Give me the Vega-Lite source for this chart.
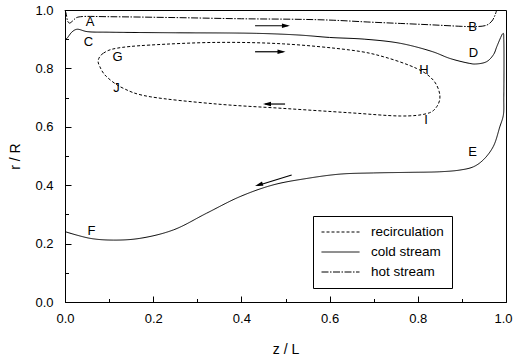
{
  "$schema": "https://vega.github.io/schema/vega-lite/v6.json",
  "width": 441,
  "height": 292,
  "autosize": "none",
  "padding": {"left": 65, "top": 10, "right": 8, "bottom": 56},
  "background": "white",
  "config": {
    "view": {"stroke": "black", "strokeWidth": 1},
    "font": "Liberation Sans",
    "axis": {
      "domainColor": "black", "tickColor": "black", "labelColor": "black", "titleColor": "black",
      "labelFont": "Liberation Sans", "titleFont": "Liberation Sans",
      "labelFontSize": 13, "titleFontSize": 14, "titleFontWeight": "normal", "grid": false, "ticks": true
    },
    "text": {"font": "Liberation Sans"}
  },
  "resolve": {"axis": {"x": "independent", "y": "independent"}},
  "datasets": {
    "loop": [
      {"i": 0, "z": 0.0755, "r": 0.829}, {"i": 1, "z": 0.087, "r": 0.852}, {"i": 2, "z": 0.117, "r": 0.869},
      {"i": 3, "z": 0.193, "r": 0.880}, {"i": 4, "z": 0.344, "r": 0.889}, {"i": 5, "z": 0.495, "r": 0.884},
      {"i": 6, "z": 0.646, "r": 0.863}, {"i": 7, "z": 0.722, "r": 0.840}, {"i": 8, "z": 0.797, "r": 0.800},
      {"i": 9, "z": 0.835, "r": 0.760}, {"i": 10, "z": 0.850, "r": 0.709}, {"i": 11, "z": 0.843, "r": 0.669},
      {"i": 12, "z": 0.820, "r": 0.645}, {"i": 13, "z": 0.760, "r": 0.637}, {"i": 14, "z": 0.646, "r": 0.648},
      {"i": 15, "z": 0.495, "r": 0.663}, {"i": 16, "z": 0.344, "r": 0.678}, {"i": 17, "z": 0.193, "r": 0.703},
      {"i": 18, "z": 0.132, "r": 0.732}, {"i": 19, "z": 0.094, "r": 0.772}, {"i": 20, "z": 0.079, "r": 0.806}
    ],
    "streams": [
      {"series": "hot stream", "i": 0, "z": 0.0, "r": 1.0},
      {"series": "hot stream", "i": 1, "z": 0.003, "r": 0.985},
      {"series": "hot stream", "i": 2, "z": 0.006, "r": 0.962},
      {"series": "hot stream", "i": 3, "z": 0.010, "r": 0.955},
      {"series": "hot stream", "i": 4, "z": 0.017, "r": 0.962},
      {"series": "hot stream", "i": 5, "z": 0.025, "r": 0.973},
      {"series": "hot stream", "i": 6, "z": 0.035, "r": 0.977},
      {"series": "hot stream", "i": 7, "z": 0.1, "r": 0.977},
      {"series": "hot stream", "i": 8, "z": 0.25, "r": 0.974},
      {"series": "hot stream", "i": 9, "z": 0.4, "r": 0.970},
      {"series": "hot stream", "i": 10, "z": 0.533, "r": 0.968},
      {"series": "hot stream", "i": 11, "z": 0.608, "r": 0.965},
      {"series": "hot stream", "i": 12, "z": 0.685, "r": 0.959},
      {"series": "hot stream", "i": 13, "z": 0.76, "r": 0.954},
      {"series": "hot stream", "i": 14, "z": 0.834, "r": 0.949},
      {"series": "hot stream", "i": 15, "z": 0.9, "r": 0.944},
      {"series": "hot stream", "i": 16, "z": 0.93, "r": 0.943},
      {"series": "hot stream", "i": 17, "z": 0.956, "r": 0.948},
      {"series": "hot stream", "i": 18, "z": 0.968, "r": 0.962},
      {"series": "hot stream", "i": 19, "z": 0.975, "r": 0.982},
      {"series": "hot stream", "i": 20, "z": 0.979, "r": 1.0},
      {"series": "cold stream", "i": 0, "z": 0.0, "r": 0.897},
      {"series": "cold stream", "i": 1, "z": 0.005, "r": 0.904},
      {"series": "cold stream", "i": 2, "z": 0.016, "r": 0.925},
      {"series": "cold stream", "i": 3, "z": 0.027, "r": 0.934},
      {"series": "cold stream", "i": 4, "z": 0.05, "r": 0.926},
      {"series": "cold stream", "i": 5, "z": 0.1, "r": 0.924},
      {"series": "cold stream", "i": 6, "z": 0.25, "r": 0.922},
      {"series": "cold stream", "i": 7, "z": 0.435, "r": 0.920},
      {"series": "cold stream", "i": 8, "z": 0.533, "r": 0.914},
      {"series": "cold stream", "i": 9, "z": 0.6, "r": 0.906},
      {"series": "cold stream", "i": 10, "z": 0.68, "r": 0.900},
      {"series": "cold stream", "i": 11, "z": 0.76, "r": 0.886},
      {"series": "cold stream", "i": 12, "z": 0.834, "r": 0.857},
      {"series": "cold stream", "i": 13, "z": 0.873, "r": 0.834},
      {"series": "cold stream", "i": 14, "z": 0.918, "r": 0.817},
      {"series": "cold stream", "i": 15, "z": 0.93, "r": 0.815},
      {"series": "cold stream", "i": 16, "z": 0.956, "r": 0.823},
      {"series": "cold stream", "i": 17, "z": 0.972, "r": 0.848},
      {"series": "cold stream", "i": 18, "z": 0.979, "r": 0.874},
      {"series": "cold stream", "i": 19, "z": 0.988, "r": 0.906},
      {"series": "cold stream", "i": 20, "z": 0.992, "r": 0.918},
      {"series": "cold stream", "i": 21, "z": 0.994, "r": 0.920},
      {"series": "cold stream", "i": 22, "z": 0.995, "r": 0.900},
      {"series": "cold stream", "i": 23, "z": 0.995, "r": 0.700},
      {"series": "cold stream", "i": 24, "z": 0.994, "r": 0.640},
      {"series": "cold stream", "i": 25, "z": 0.986, "r": 0.600},
      {"series": "cold stream", "i": 26, "z": 0.971, "r": 0.532},
      {"series": "cold stream", "i": 27, "z": 0.948, "r": 0.486},
      {"series": "cold stream", "i": 28, "z": 0.926, "r": 0.463},
      {"series": "cold stream", "i": 29, "z": 0.896, "r": 0.452},
      {"series": "cold stream", "i": 30, "z": 0.85, "r": 0.446},
      {"series": "cold stream", "i": 31, "z": 0.78, "r": 0.444},
      {"series": "cold stream", "i": 32, "z": 0.7, "r": 0.442},
      {"series": "cold stream", "i": 33, "z": 0.624, "r": 0.438},
      {"series": "cold stream", "i": 34, "z": 0.548, "r": 0.423},
      {"series": "cold stream", "i": 35, "z": 0.472, "r": 0.401},
      {"series": "cold stream", "i": 36, "z": 0.397, "r": 0.361},
      {"series": "cold stream", "i": 37, "z": 0.321, "r": 0.304},
      {"series": "cold stream", "i": 38, "z": 0.246, "r": 0.247},
      {"series": "cold stream", "i": 39, "z": 0.17, "r": 0.218},
      {"series": "cold stream", "i": 40, "z": 0.11, "r": 0.212},
      {"series": "cold stream", "i": 41, "z": 0.057, "r": 0.218},
      {"series": "cold stream", "i": 42, "z": 0.0, "r": 0.241}
    ],
    "shafts": [
      {"id": 1, "z": 0.431, "r": 0.946}, {"id": 1, "z": 0.505, "r": 0.946},
      {"id": 2, "z": 0.431, "r": 0.857}, {"id": 2, "z": 0.495, "r": 0.857},
      {"id": 3, "z": 0.499, "r": 0.678}, {"id": 3, "z": 0.454, "r": 0.678},
      {"id": 4, "z": 0.514, "r": 0.435}, {"id": 4, "z": 0.437, "r": 0.399}
    ],
    "heads": [
      {"z": 0.510, "r": 0.946, "dir": 0},
      {"z": 0.500, "r": 0.857, "dir": 0},
      {"z": 0.449, "r": 0.678, "dir": 180},
      {"z": 0.431, "r": 0.397, "dir": 162}
    ],
    "labels": [
      {"t": "A", "z": 0.057, "r": 0.958}, {"t": "B", "z": 0.924, "r": 0.941},
      {"t": "C", "z": 0.053, "r": 0.891}, {"t": "D", "z": 0.926, "r": 0.852},
      {"t": "E", "z": 0.924, "r": 0.514}, {"t": "F", "z": 0.060, "r": 0.243},
      {"t": "G", "z": 0.119, "r": 0.838}, {"t": "H", "z": 0.814, "r": 0.795},
      {"t": "I", "z": 0.819, "r": 0.623}, {"t": "J", "z": 0.117, "r": 0.732}
    ]
  },
  "layer": [
    {
      "data": {"name": "loop"},
      "transform": [{"calculate": "'recirculation'", "as": "series"}],
      "mark": {"type": "line", "color": "black", "strokeWidth": 1, "interpolate": "cardinal-closed"},
      "encoding": {
        "x": {
          "field": "z", "type": "quantitative", "scale": {"domain": [0, 1], "nice": false, "zero": false},
          "axis": {
            "orient": "bottom", "title": "z / L",
            "values": [0, 0.2, 0.4, 0.6, 0.8, 1.0],
            "format": ".1f", "ticks": true, "tickSize": -6, "tickWidth": 1,
            "labelOffset": {"condition": {"test": "datum.value > 0.99", "value": -3}, "value": 0},
            "labelPadding": 16, "titlePadding": 17, "labelOverlap": false, "labelFlush": false
          }
        },
        "y": {
          "field": "r", "type": "quantitative", "scale": {"domain": [0, 1], "nice": false, "zero": false},
          "axis": {
            "orient": "left", "title": "r / R",
            "values": [0, 0.2, 0.4, 0.6, 0.8, 1.0],
            "format": ".1f", "ticks": true, "tickSize": -6, "tickWidth": 1,
            "labelPadding": 18, "titlePadding": 12, "labelOverlap": false, "labelFlush": false
          }
        },
        "strokeDash": {
          "field": "series", "type": "nominal",
          "scale": {"domain": ["recirculation", "cold stream", "hot stream"], "range": [[3, 2], [1, 0], [7, 1.5, 1.5, 1.5]]},
          "legend": {
            "orient": "none", "legendX": 248, "legendY": 206, "title": null,
            "symbolType": "stroke", "symbolSize": 1444, "symbolStrokeColor": "black", "symbolStrokeWidth": 1,
            "labelFont": "Liberation Sans", "labelFontSize": 13.5, "labelColor": "black", "labelOffset": 11,
            "padding": 8, "strokeColor": "black", "fillColor": "white", "clipHeight": 16, "rowPadding": 4,
            "labelExpr": "datum.label + '\u00a0\u00a0\u00a0\u00a0\u00a0\u00a0\u00a0\u00a0\u00a0'"
          }
        },
        "order": {"field": "i", "type": "quantitative"}
      }
    },
    {
      "data": {"name": "streams"},
      "mark": {"type": "line", "color": "black", "strokeWidth": 1, "interpolate": "catmull-rom"},
      "encoding": {
        "x": {
          "field": "z", "type": "quantitative",
          "axis": {"orient": "bottom", "title": null, "values": [0.1, 0.3, 0.5, 0.7, 0.9], "labels": false, "domain": false, "ticks": true, "tickSize": -3.5, "tickWidth": 1}
        },
        "y": {
          "field": "r", "type": "quantitative",
          "axis": {"orient": "left", "title": null, "values": [0.1, 0.3, 0.5, 0.7, 0.9], "labels": false, "domain": false, "ticks": true, "tickSize": -3.5, "tickWidth": 1}
        },
        "strokeDash": {"field": "series", "type": "nominal"},
        "order": {"field": "i", "type": "quantitative"}
      }
    },
    {
      "data": {"name": "shafts"},
      "mark": {"type": "line", "color": "black", "strokeWidth": 1.2},
      "encoding": {
        "x": {"field": "z", "type": "quantitative", "axis": null},
        "y": {"field": "r", "type": "quantitative", "axis": null},
        "detail": {"field": "id", "type": "nominal"}
      }
    },
    {
      "data": {"name": "heads"},
      "mark": {"type": "point", "shape": "M0,0 L-2,-0.55 L-2,0.55 Z", "size": 64, "filled": true, "color": "black", "opacity": 1, "strokeWidth": 0},
      "encoding": {
        "x": {"field": "z", "type": "quantitative", "axis": null},
        "y": {"field": "r", "type": "quantitative", "axis": null},
        "angle": {"field": "dir", "type": "quantitative", "scale": null}
      }
    },
    {
      "data": {"name": "labels"},
      "mark": {"type": "text", "fontSize": 13, "color": "black", "align": "center", "baseline": "middle"},
      "encoding": {
        "x": {"field": "z", "type": "quantitative", "axis": null},
        "y": {"field": "r", "type": "quantitative", "axis": null},
        "text": {"field": "t", "type": "nominal"}
      }
    }
  ]
}
